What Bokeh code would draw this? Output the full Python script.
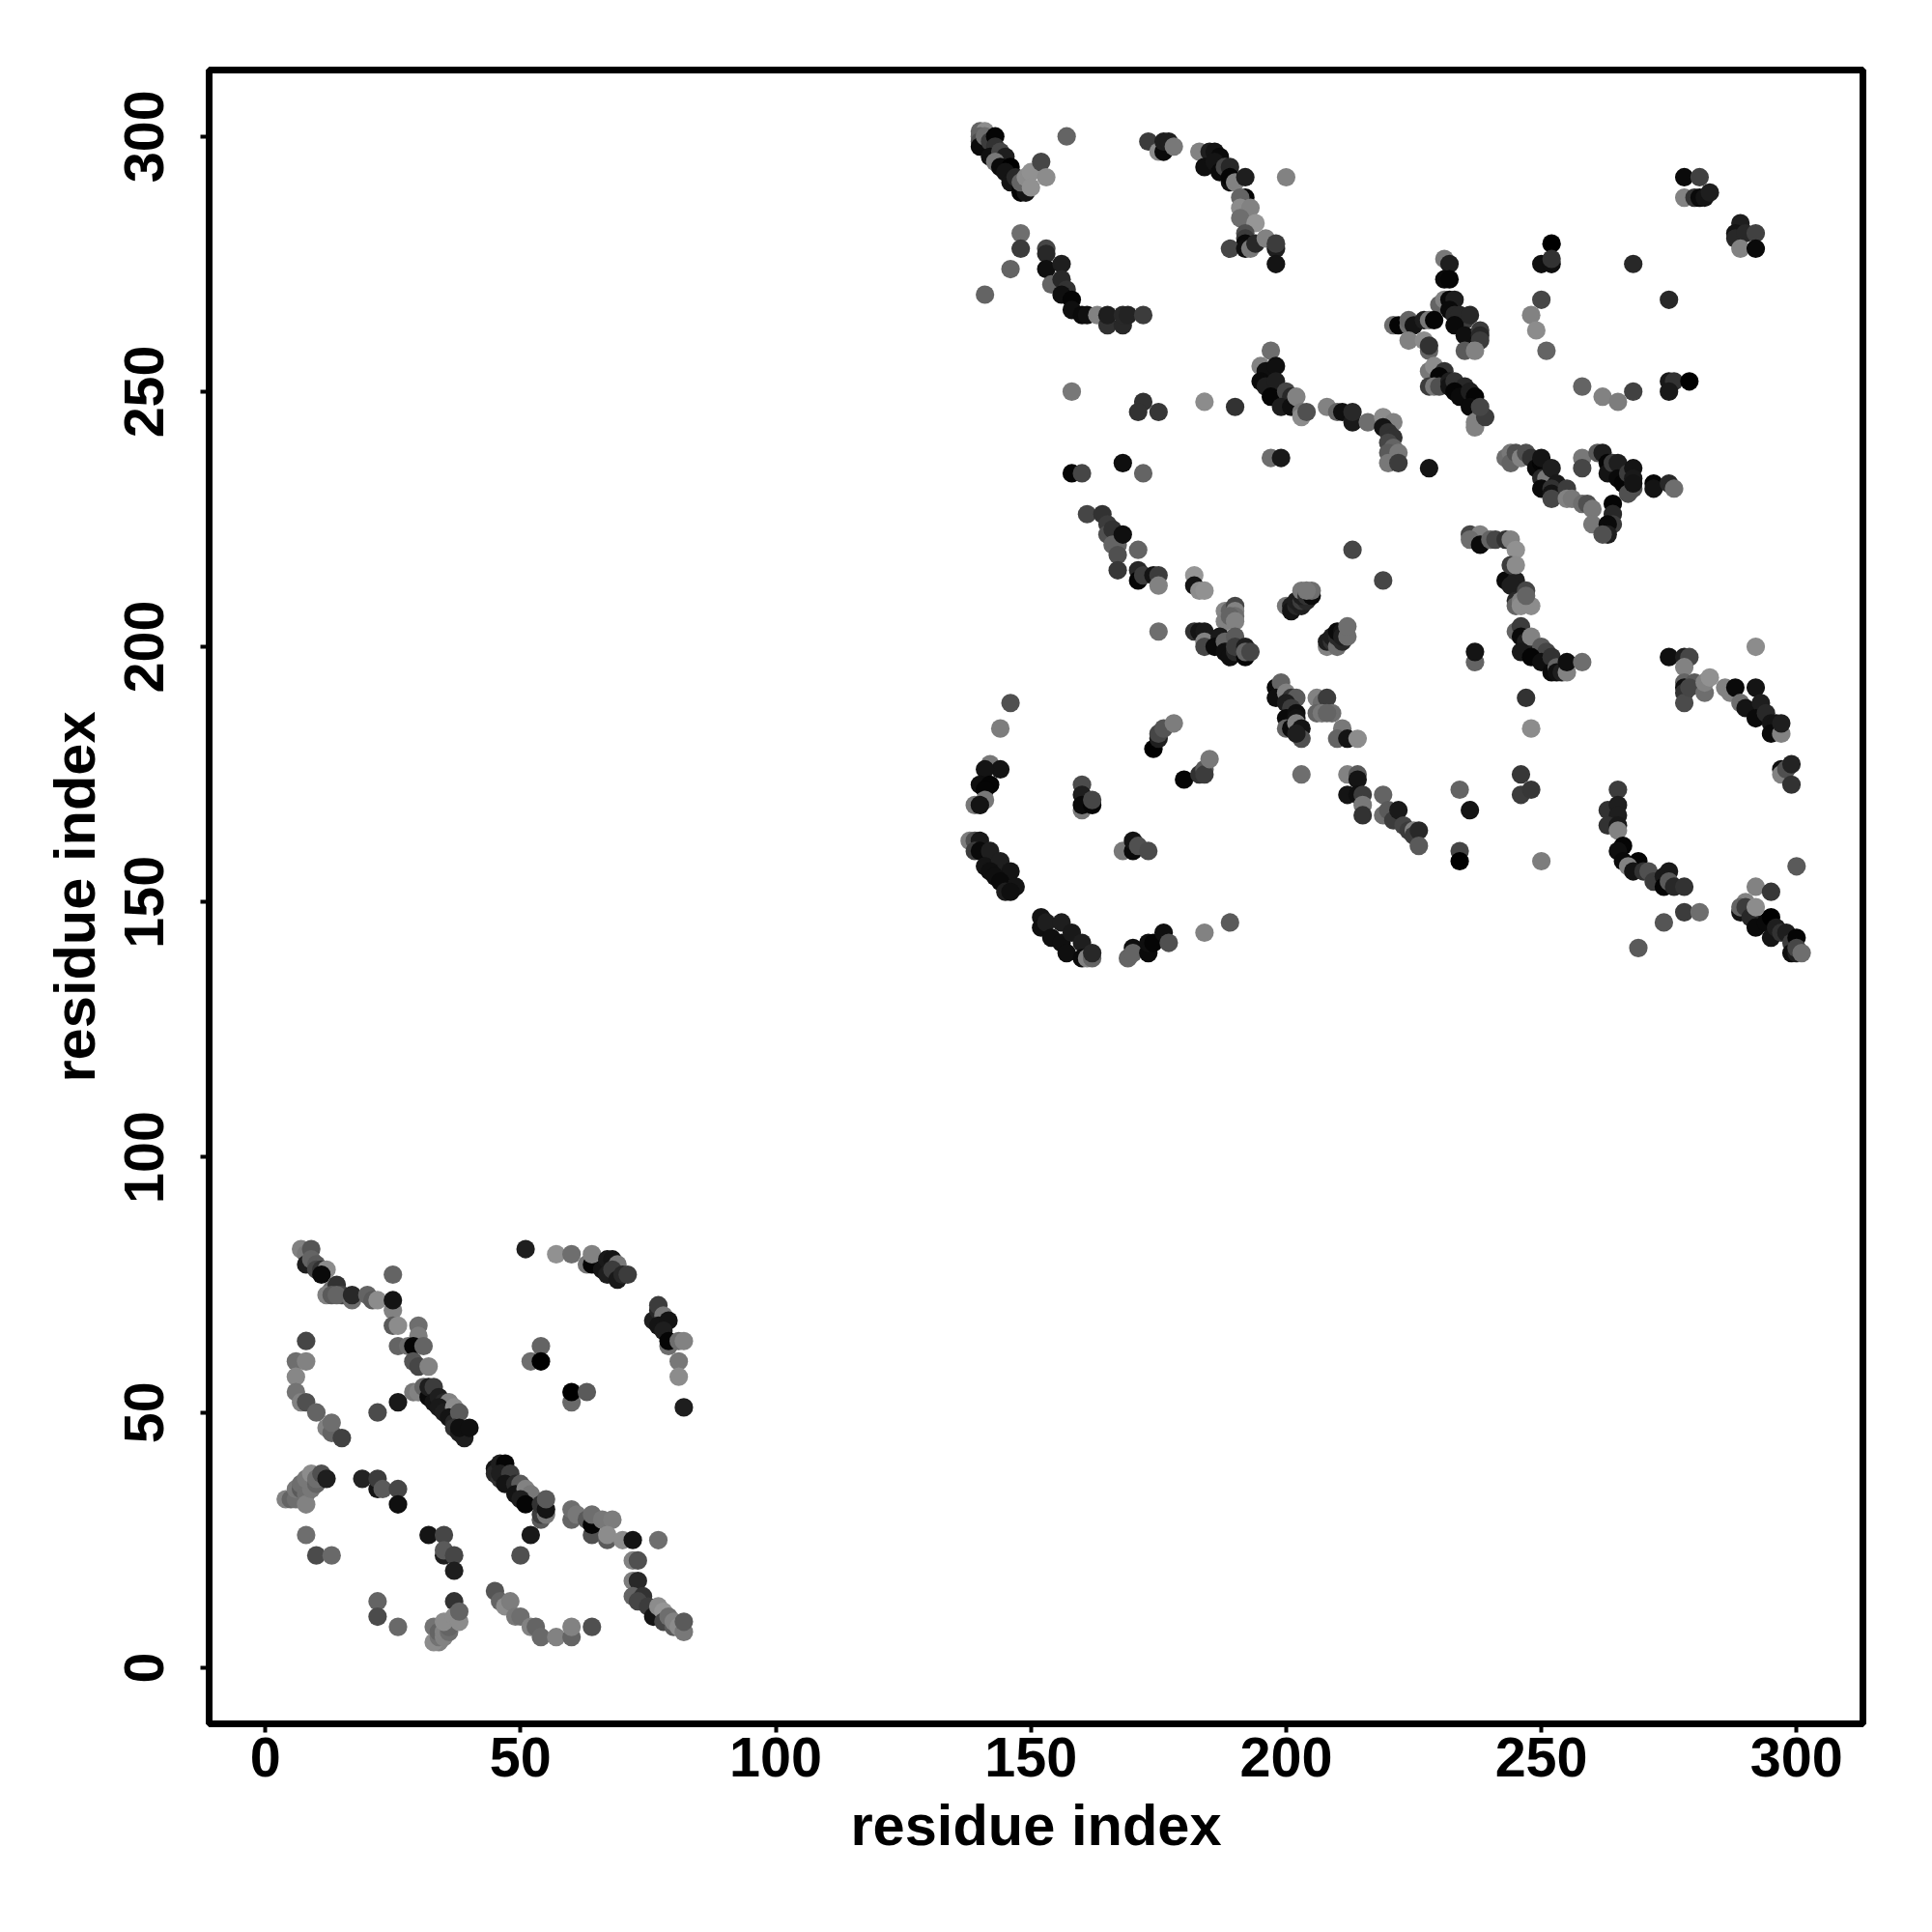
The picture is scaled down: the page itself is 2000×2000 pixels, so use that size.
from bokeh.plotting import figure
from bokeh.models import ColumnDataSource, FixedTicker
from bokeh.embed import file_html
from bokeh.resources import INLINE

# (residue x, residue y, grey level 0-255)
arc_a = [(7,82,130),(8,81,120),(9,82,85),(8,79,30),(9,80,100),(10,79,90),(10,78,70),(11,78,50),(12,78,140),(11,77,10),(13,74,110),(12,73,130),(14,75,50),(13,73,90),(15,73,70),(14,73,100),(17,72,110),(17,73,40),(20,73,100),(21,72,90),(22,72,140),(25,77,100),(25,70,130),(25,72,20),(25,67,90),(26,67,140),(30,67,110),(30,65,125),(26,63,100),(28,63,110),(29,63,5),(31,63,100),(29,60,85),(30,59,70),(32,59,130)]
chain_a = [(29,54,120),(30,54,130),(31,55,100),(32,53,10),(32,55,30),(33,55,60),(33,52,20),(34,53,30),(35,52,40),(36,52,130),(34,51,25),(35,50,30),(37,51,140),(36,49,20),(37,48,40),(38,50,90),(37,47,50),(38,46,30),(39,46,25),(39,45,30),(38,47,15),(40,47,15)]
left_a = [(8,64,70),(6,60,110),(8,60,130),(6,57,135),(6,54,115),(7,52,130),(8,52,80),(10,50,100),(12,47,130),(13,46,100),(13,48,110),(15,45,65),(22,50,75),(26,52,25)]
upper_a = [(51,82,30),(57,81,145),(60,81,110),(63,79,120),(64,79,5),(64,81,130),(66,78,20),(67,80,25),(68,80,20),(67,77,30),(69,79,120),(68,78,60),(69,76,25),(70,77,40),(71,77,60),(76,68,30),(77,70,40),(77,71,60),(78,69,120),(77,67,20),(79,68,20),(78,66,30),(79,63,110),(79,64,5),(81,64,110),(82,64,130),(81,60,120),(81,57,140),(82,51,30)]
mid_a = [(54,63,100),(52,60,110),(54,60,0),(60,52,105),(60,54,0),(63,54,90)]
lower_a = [(4,33,130),(5,33,100),(6,33,110),(6,35,120),(7,35,90),(7,36,110),(8,34,110),(8,32,130),(9,35,120),(8,37,120),(9,38,140),(10,36,100),(10,37,110),(11,38,80),(12,37,30),(19,37,35),(22,35,20),(22,37,60),(23,35,90),(26,35,70),(26,32,15),(8,26,110),(10,22,75),(13,22,105),(32,26,20),(35,26,70),(35,22,30),(35,23,90),(37,22,70),(37,19,30),(22,13,100),(22,10,75),(26,8,105),(37,13,50),(33,8,115),(34,5,130),(33,5,140),(34,6,115),(34,7,100),(35,6,130),(35,7,130),(36,7,110),(36,8,100),(35,9,140),(37,10,140),(38,9,140),(38,11,100)]
chain_b = [(45,39,20),(45,38,40),(46,40,30),(47,40,5),(46,37,50),(46,38,30),(48,38,60),(47,36,20),(49,36,40),(50,36,90),(49,34,20),(51,35,130),(52,34,120),(50,33,30),(51,32,5),(54,29,90),(54,30,60),(55,30,120),(54,32,50),(55,31,20),(55,33,90),(52,26,25),(50,22,80)]
right_a = [(60,29,100),(60,31,110),(61,30,120),(63,29,90),(64,26,80),(64,28,5),(64,30,110),(66,29,120),(68,29,125),(67,25,90),(67,26,140),(70,25,140),(72,25,20),(77,25,110),(72,21,130),(73,21,80),(72,17,125),(73,17,40),(72,14,100),(74,14,50),(73,13,70),(75,12,60),(76,10,20),(77,12,140),(78,11,150),(78,9,70),(79,10,110),(80,8,90),(80,9,130),(81,8,140),(82,7,120),(82,9,90)]
bottom_a = [(45,15,85),(46,13,100),(47,12,140),(48,13,125),(49,10,120),(50,10,110),(52,8,130),(53,8,100),(54,6,105),(57,6,130),(60,6,100),(60,8,130),(64,8,80)]

top_1 = [(140,301,100),(141,301,140),(140,300,100),(140,299,80),(140,298,10),(141,300,110),(142,299,60),(143,300,5),(143,298,50),(142,296,15),(144,297,70),(145,296,30),(143,295,120),(144,294,10),(146,294,0),(145,293,20),(146,291,20),(147,292,40),(148,290,15),(148,289,5),(149,289,20),(148,291,100),(149,292,140),(150,293,145),(150,290,145),(152,295,70),(153,292,140),(157,300,100)]
top_2 = [(173,299,60),(175,297,140),(176,297,10),(176,299,30),(177,299,30),(178,298,120),(183,297,130),(185,297,30),(186,297,20),(184,294,15),(187,296,10),(186,295,20),(187,293,10),(188,294,70),(189,294,40),(189,291,15),(189,292,5),(190,291,130),(192,292,30),(200,292,130)]
top_3 = [(192,288,5),(191,288,100),(191,286,140),(193,286,130),(191,284,110),(194,283,150),(192,281,80),(192,280,60),(192,279,10),(189,278,70),(192,278,15),(193,278,120),(194,279,40),(196,280,130),(198,278,30),(198,279,60),(198,275,20)]
arc_b = [(148,281,110),(148,278,60),(146,274,100),(141,269,100),(153,278,70),(153,277,40),(153,274,15),(156,275,30),(154,271,100),(156,272,40),(157,270,50),(156,269,15),(158,268,5),(158,266,15),(160,265,10),(161,265,15),(163,265,130),(165,263,50),(165,265,30),(168,263,40),(168,265,40),(169,265,35),(172,265,60)]
sparse_a = [(158,250,120),(172,248,50),(171,246,50),(175,246,55),(184,248,140),(190,247,50),(158,234,5),(160,234,70),(168,236,15),(172,234,100),(197,237,110),(199,237,25)]
chain_c = [(161,226,70),(164,226,50),(165,224,60),(165,222,80),(166,223,50),(166,220,100),(167,220,100),(168,222,15),(167,218,80),(171,219,100),(213,219,70)]
chain_d = [(197,258,110),(195,255,130),(196,254,15),(198,255,15),(195,252,10),(196,251,30),(198,252,30),(197,249,5),(200,250,70),(201,249,40),(199,247,30),(201,247,15),(202,249,130),(203,246,120),(203,245,140),(204,246,80),(208,247,130),(210,246,100),(211,246,15),(213,244,25),(213,246,40),(216,244,110),(219,245,140)]
block_e = [(231,276,120),(232,275,30),(231,272,10),(232,272,5),(230,267,100),(231,268,130),(232,268,10),(233,268,30),(232,266,10),(233,265,40),(235,264,60),(234,265,40),(233,263,10),(236,265,40),(235,261,15),(238,262,60),(238,261,40),(238,260,60)]
block_f = [(221,263,110),(222,263,5),(224,263,110),(224,264,100),(225,263,20),(227,264,30),(228,264,120),(229,264,5),(224,260,130),(227,260,140),(228,258,100),(228,259,50),(235,258,90),(237,258,130)]
sparse_b = [(252,279,0),(250,275,15),(252,275,15),(252,276,50),(250,268,70),(248,265,130),(249,262,140),(251,258,100),(268,275,40),(275,268,40),(278,292,10),(281,292,65),(278,288,130),(280,288,50),(281,288,10),(282,288,20),(283,289,30),(289,283,30),(288,281,20),(288,280,40),(290,281,40),(292,281,65),(289,278,130),(292,278,10),(258,251,100),(262,249,130),(265,248,125),(268,250,65),(275,252,25),(276,252,50),(275,250,25),(279,252,0)]
chain_g = [(228,254,120),(229,255,140),(231,254,50),(230,253,5),(228,251,60),(229,251,120),(230,251,80),(232,252,30),(232,251,20),(233,252,50),(235,251,40),(233,250,5),(234,249,10),(236,250,30),(237,249,5),(236,247,10),(238,245,100),(237,244,130),(237,243,130),(239,245,60),(238,247,70)]
chain_h = [(221,244,130),(219,243,20),(220,242,50),(221,241,50),(220,240,70),(221,239,100),(220,238,90),(222,238,120),(220,236,120),(222,236,60),(228,235,20)]
block_i = [(243,237,110),(244,238,120),(244,236,100),(245,238,80),(246,237,130),(247,238,80),(248,237,50),(249,235,10),(250,236,5),(250,237,20),(250,233,40),(251,233,120),(252,235,30),(250,231,10),(253,232,25),(252,231,50),(252,230,20),(252,229,70),(255,231,60),(255,229,130),(256,229,120)]
block_j = [(258,237,120),(258,235,70),(261,238,90),(262,238,30),(263,236,5),(263,234,20),(264,236,60),(265,236,30),(265,233,10),(266,232,5),(267,234,60),(268,235,20),(268,233,25),(268,231,80),(267,230,80),(268,232,20),(272,232,5),(272,231,20),(275,232,40),(276,231,110)]
block_k = [(258,228,110),(259,228,80),(260,227,120),(260,224,120),(264,228,5),(264,226,40),(264,224,60),(263,224,10),(263,222,30),(262,222,80),(236,222,70),(238,222,130),(236,221,110),(238,220,10),(240,221,100),(241,221,70),(243,221,50),(244,221,130),(245,219,145)]

row_l = [(167,215,55),(171,215,40),(171,213,5),(172,214,60),(174,214,20),(175,214,60),(175,212,130),(182,214,150),(182,212,20),(183,211,140),(184,211,145),(175,203,110)]
block_m = [(188,207,135),(189,207,100),(190,208,70),(190,207,130),(188,205,130),(190,206,110),(189,206,100),(190,205,130),(182,203,50),(183,203,20),(184,203,25),(184,201,130),(184,200,70),(187,202,25),(186,200,10),(188,201,100),(188,199,15),(190,202,90),(189,198,15),(190,199,40),(190,200,60),(192,198,5),(192,200,30),(192,199,100),(193,199,70)]
block_n = [(200,208,120),(201,208,30),(201,207,20),(202,208,40),(202,209,30),(203,208,30),(203,209,60),(204,209,40),(203,210,30),(203,211,120),(204,210,50),(205,210,10),(205,211,110),(204,211,120),(208,200,130),(208,201,30),(209,201,50),(209,202,30),(210,200,110),(210,202,40),(211,201,40),(210,203,10),(211,203,20),(211,202,30),(212,202,110),(212,204,110),(219,213,70)]
block_o = [(198,192,10),(199,193,100),(198,190,15),(200,191,130),(201,190,50),(202,190,90),(200,189,30),(201,188,60),(200,186,10),(202,187,15),(202,186,20),(200,184,100),(201,184,10),(202,185,130),(203,184,20),(203,182,80),(202,183,30),(206,190,130),(207,189,110),(208,190,60),(206,187,100),(207,187,120),(209,187,110),(208,187,100),(211,184,120),(210,182,100),(212,182,20),(214,182,140),(203,175,110)]
block_p = [(212,175,130),(214,175,90),(214,174,20),(212,171,20),(214,171,15),(215,171,60),(215,169,120),(215,167,50),(219,171,100),(219,167,110),(220,168,90),(221,166,60),(222,168,25),(223,165,70),(224,164,60),(225,164,130),(225,163,60),(226,164,40),(226,161,90)]
arc_q = [(146,189,80),(144,184,125),(142,177,120),(144,176,20),(141,176,20),(140,173,15),(142,173,5),(141,172,5),(141,170,120),(139,169,120),(140,169,20),(138,162,125),(139,162,80),(140,162,25),(139,160,60),(140,160,10),(142,160,30),(141,157,20),(144,158,30),(142,156,15),(146,156,20),(143,155,15),(144,154,10),(145,152,30),(147,153,20),(146,152,15)]
group_r = [(160,173,75),(160,171,30),(160,168,120),(160,169,10),(162,169,5),(162,170,70),(168,160,120),(170,160,10),(170,162,20),(171,161,80),(173,160,75),(174,180,0),(175,182,30),(175,183,70),(176,184,85),(178,185,125),(180,174,5),(183,175,50),(184,176,90),(184,175,60),(185,178,120)]
arc_s = [(152,147,20),(152,145,15),(153,146,30),(156,146,30),(154,143,15),(156,142,15),(158,144,25),(157,140,15),(160,142,30),(160,139,10),(161,139,130),(162,139,100),(162,140,40),(169,139,100),(170,141,15),(170,140,100),(173,140,10),(173,142,15),(174,142,5),(176,144,15),(177,142,80),(184,144,130),(189,146,90)]

column_t = [(243,213,10),(245,213,30),(244,216,60),(245,216,140),(244,212,30),(245,209,40),(247,211,70),(245,208,100),(246,209,130),(246,208,140),(248,208,140),(247,210,100)]
chain_u = [(245,203,100),(246,204,60),(246,202,10),(247,201,30),(248,202,130),(246,199,25),(250,200,90),(251,199,70),(248,198,5),(250,197,15),(252,198,50),(252,195,10),(253,196,100),(253,195,15),(254,195,30),(255,195,130),(255,197,15),(258,197,110),(237,197,100),(237,199,20),(247,190,50),(248,184,140)]
chain_v = [(275,198,15),(278,198,30),(279,198,70),(278,196,130),(278,193,100),(278,192,15),(278,191,50),(278,189,75),(280,193,90),(279,192,70),(282,191,110),(282,193,130),(283,194,145),(286,192,130),(287,191,130),(288,192,10),(292,192,20),(292,200,140),(289,189,110),(290,188,20),(293,189,30),(292,186,10),(294,187,40),(295,185,20),(296,185,20),(295,183,10),(297,183,130),(297,185,30),(297,176,15),(297,175,130),(298,176,80),(299,177,35),(299,173,50)]
sparse_w = [(234,172,100),(236,168,20),(234,160,70),(234,158,0),(246,175,55),(246,171,60),(248,172,55),(250,158,125)]
chain_x = [(265,172,60),(263,168,50),(265,169,30),(265,167,30),(263,165,50),(265,165,25),(265,164,130),(266,161,5),(265,160,15),(266,158,10),(269,158,5),(267,157,130),(268,156,20),(270,156,50),(271,156,80),(272,154,60),(274,155,25),(275,156,25),(274,153,5),(275,154,90),(276,153,40),(278,153,50),(274,146,85),(278,148,60),(281,148,110),(269,141,90)]
chain_y = [(300,157,90),(292,153,130),(295,152,55),(290,150,130),(289,148,20),(289,149,100),(290,149,60),(291,147,40),(292,149,140),(292,145,10),(294,146,10),(295,147,0),(295,143,20),(296,145,30),(297,144,50),(298,144,30),(299,142,60),(299,140,15),(300,143,5),(300,140,30),(300,141,70),(301,140,110)]

blocks = [arc_a, chain_a, left_a, upper_a, mid_a, lower_a, chain_b, right_a, bottom_a,
          top_1, top_2, top_3, arc_b, sparse_a, chain_c, chain_d, block_e, block_f, sparse_b,
          chain_g, chain_h, block_i, block_j, block_k, row_l, block_m, block_n, block_o,
          block_p, arc_q, group_r, arc_s, column_t, chain_u, chain_v, sparse_w, chain_x, chain_y]
points = [pt for block in blocks for pt in block]

tick_values = [0, 50, 100, 150, 200, 250, 300]
axis_title = "residue index"

source = ColumnDataSource(dict(
    x=[pt[0] for pt in points],
    y=[pt[1] for pt in points],
    color=["#%02x%02x%02x" % (pt[2], pt[2], pt[2]) for pt in points],
))

p = figure(width=1992, height=1992, output_backend="svg", toolbar_location=None,
           x_range=(-11, 313), y_range=(-11, 313),
           min_border_left=216, min_border_right=64, min_border_top=72, min_border_bottom=208,
           background_fill_color="white", border_fill_color="white")
p.grid.visible = False
p.outline_line_color = "black"
p.outline_line_width = 7
p.scatter("x", "y", source=source, size=19.2, marker="circle", fill_color="color", line_color=None)

for ax in (p.xaxis[0], p.yaxis[0]):
    ax.ticker = FixedTicker(ticks=tick_values)
    ax.axis_label = axis_title
    ax.axis_line_color = None
    ax.minor_tick_line_color = None
    ax.major_tick_in = 0
    ax.major_tick_out = 9
    ax.major_tick_line_width = 4
    ax.major_tick_line_color = "black"
    ax.major_label_text_font = "Liberation Sans"
    ax.major_label_text_font_style = "bold"
    ax.major_label_text_font_size = "57.5px"
    ax.major_label_text_color = "black"
    ax.axis_label_text_font = "Liberation Sans"
    ax.axis_label_text_font_style = "bold"
    ax.axis_label_text_font_size = "59.6px"
    ax.axis_label_text_color = "black"
p.xaxis[0].major_label_standoff = 5
p.xaxis[0].axis_label_standoff = 14
p.yaxis[0].major_label_orientation = "vertical"
p.yaxis[0].major_label_standoff = 38
p.yaxis[0].axis_label_standoff = 16

open("out.html", "w").write(file_html(p, INLINE))
